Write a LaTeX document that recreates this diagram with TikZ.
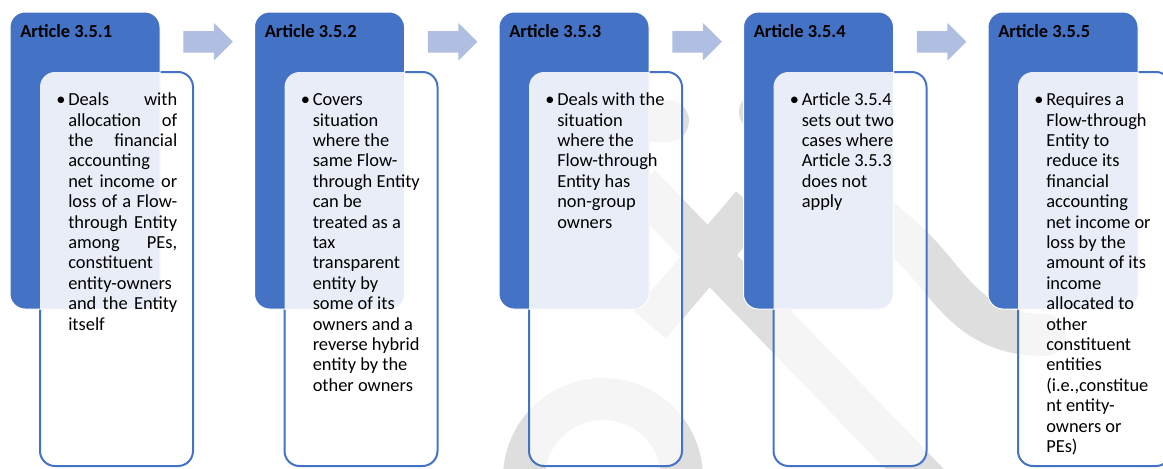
\documentclass[tikz,border=0pt]{standalone}
\usepackage{fontspec}
\setmainfont{Carlito}
\usetikzlibrary{positioning}
\definecolor{artblue}{HTML}{4472C4}
\definecolor{arrowblue}{HTML}{B0BEE2}
\newcommand{\bodyfont}{\fontsize{13.8}{15.3}\selectfont}
\newcommand{\jl}[1]{\makebox[81.75pt][s]{#1}}
\tikzset{
	hnode/.style = {rectangle, rounded corners=11.25pt, fill=artblue, draw=white,
		line width=0.75pt, minimum width=112.5pt, minimum height=222.75pt,
		inner sep=0, outer sep=0},
	bnode/.style = {rectangle, rounded corners=11.25pt, draw=artblue, line width=1.5pt,
		fill=white, fill opacity=0.7, minimum width=114.75pt, minimum height=295.5pt,
		inner sep=0, outer sep=0},
	ttext/.style = {anchor=base west, inner sep=0, font=\fontsize{13.8}{15.3}\selectfont\bfseries},
	dtext/.style = {anchor=base west, inner sep=0, font=\bodyfont},
	btext/.style = {anchor=north west, inner sep=0, align=left, font=\bodyfont},
	wm/.style = {draw=black!13, line width=31.5pt}
}

\begin{document}
\begin{tikzpicture}[x=0.75pt, y=-0.75pt, node distance=183.375pt, on grid]

	\useasboundingbox (0,0) rectangle (1163,468);

	% watermark
	\draw[wm] (640,185) -- (935,490);
	\draw[wm] (752,205) -- (650,325);
	\draw[wm, line cap=round] (620,121) -- (668,121);
	\draw[wm, line cap=round] (760,112) -- (905,240) .. controls (950,280) and (965,335) .. (1045,335);
	\draw[wm] (524,478) arc[start angle=180, end angle=360, radius=79];

	\node[bnode] (b1) at (116.5,269) {};
	\node[bnode, right=of b1] (b2) {};
	\node[bnode, right=of b2] (b3) {};
	\node[bnode, right=of b3] (b4) {};
	\node[bnode, right=of b4] (b5) {};

	\node[hnode] (h1) at (85,160.5) {};
	\node[hnode, right=of h1] (h2) {};
	\node[hnode, right=of h2] (h3) {};
	\node[hnode, right=of h3] (h4) {};
	\node[hnode, right=of h4] (h5) {};

	% block arrows between the headers
	\foreach \n in {1,...,4} {
		\coordinate (a\n) at ([xshift=17.6pt, yshift=-14.25pt]h\n.north east);
		\fill[arrowblue] (a\n) -- ++(30.5,0) -- ++(0,-8) -- ++(19,18.75) -- ++(-19,18.75)
			-- ++(0,-8) -- ++(-30.5,0) -- cycle;
	}

	% light part of the body box over the header
	\foreach \n in {1,...,5} {
		\begin{scope}
			\clip[rounded corners=11.25pt] (h\n.north west) rectangle (h\n.south east);
			\fill[white, fill opacity=0.88, rounded corners=11.25pt] (b\n.north west) rectangle (b\n.south east);
		\end{scope}
	}

	\node[ttext] (t1) at ([xshift=7.5pt, yshift=-18.75pt]h1.north west) {Article 3.5.1};
	\node[ttext] (t2) at ([xshift=7.5pt, yshift=-18.75pt]h2.north west) {Article 3.5.2};
	\node[ttext] (t3) at ([xshift=7.5pt, yshift=-18.75pt]h3.north west) {Article 3.5.3};
	\node[ttext] (t4) at ([xshift=7.5pt, yshift=-18.75pt]h4.north west) {Article 3.5.4};
	\node[ttext] (t5) at ([xshift=7.5pt, yshift=-18.75pt]h5.north west) {Article 3.5.5};

	\foreach \n in {1,...,5}
		\node[dtext] (d\n) at ([xshift=12pt, yshift=-25.1pt]b\n.north west) {\textbullet};

	\node[btext] (x1) at ([xshift=21pt, yshift=-14.4pt]b1.north west)
		{\strut\jl{Deals with}\\ \jl{allocation of}\\ \jl{the financial}\\ accounting\\
		 \jl{net income or}\\ \jl{loss of a Flow-}\\ \jl{through Entity}\\ \jl{among PEs,}\\
		 constituent\\ entity-owners\\ \jl{and the Entity}\\ itself};
	\node[btext] (x2) at ([xshift=21pt, yshift=-14.4pt]b2.north west)
		{\strut Covers\\ situation\\ where the\\ same Flow-\\ through Entity\\ can be\\ treated as a\\
		 tax\\ transparent\\ entity by\\ some of its\\ owners and a\\ reverse hybrid\\
		 entity by the\\ other owners};
	\node[btext] (x3) at ([xshift=21pt, yshift=-14.4pt]b3.north west)
		{\strut Deals with the\\ situation\\ where the\\ Flow-through\\ Entity has\\ non-group\\ owners};
	\node[btext] (x4) at ([xshift=21pt, yshift=-14.4pt]b4.north west)
		{\strut Article 3.5.4\\ sets out two\\ cases where\\ Article 3.5.3\\ does not\\ apply};
	\node[btext] (x5) at ([xshift=21pt, yshift=-14.4pt]b5.north west)
		{\strut Requires a\\ Flow-through\\ Entity to\\ reduce its\\ financial\\ accounting\\
		 net income or\\ loss by the\\ amount of its\\ income\\ allocated to\\ other\\
		 constituent\\ entities\\ (i.e.,constitue\\ nt entity-\\ owners or\\ PEs)};

\end{tikzpicture}
\end{document}
